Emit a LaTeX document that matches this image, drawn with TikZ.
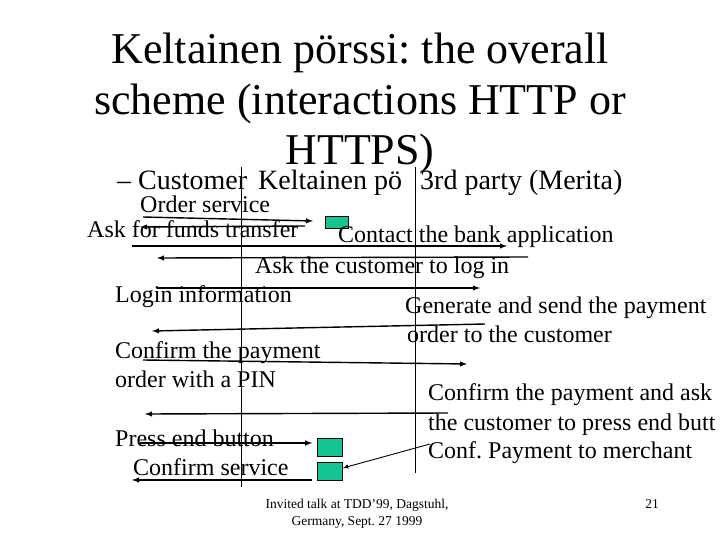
\documentclass[tikz,border=0pt]{standalone}
\usepackage{fontspec}
\setmainfont{Liberation Serif}
\usetikzlibrary{arrows}
\frenchspacing

\definecolor{boxgreen}{RGB}{22,196,146}

\begin{document}
\begin{tikzpicture}[x=1pt,y=-1pt,msg/.style={->, >=latex, line width=1.4pt},
  lbl/.style={anchor=base west, inner sep=0, font=\fontsize{24}{29}\selectfont},
  sq/.style={draw=black, fill=boxgreen, line width=.6pt, inner sep=0, minimum width=25pt, minimum height=18pt}]
\useasboundingbox (0,0) rectangle (720,540);

% TITLE
\node [anchor=base, inner sep=0, font=\fontsize{44}{51}\selectfont] (title1) at (360,64) {Keltainen pörssi: the overall};
\node [anchor=base, inner sep=0, font=\fontsize{44}{51}\selectfont] (title2) at (360,115) {scheme (interactions HTTP or};
\node [anchor=base, inner sep=0, font=\fontsize{44}{51}\selectfont] (title3) at (360,165) {HTTPS)};

% HEADER AND LIFELINES
\node [anchor=base west, inner sep=0, font=\fontsize{28}{33}\selectfont] (hcust) at (117,190) {– Customer};
\node [anchor=base west, inner sep=0, font=\fontsize{28}{33}\selectfont] (hkelt) at (258,190) {Keltainen pö};
\node [anchor=base west, inner sep=0, font=\fontsize{28}{33}\selectfont] (hbank) at (420,190) {3rd party (Merita)};
\coordinate (k top) at (241,167);
\coordinate (k bot) at (241,487);
\coordinate (b top) at (415,167);
\coordinate (b bot) at (415,473);
\draw [line width=.9pt] (k top) -- (k bot);
\draw [line width=.9pt] (b top) -- (b bot);

% SERVER BOXES
\node [sq, minimum width=23pt, minimum height=12pt] (box1) at (336.5,222.5) {};
\node [sq] (box2) at (330,447) {};
\node [sq] (box3) at (330,471) {};

% MESSAGE LABELS
\node [lbl] (order) at (140,213) {Order service};
\node [lbl] (funds) at (87,237) {Ask for funds transfer};
\node [lbl] (contact) at (338,243) {Contact the bank application};
\node [lbl] (login) at (255,273) {Ask the customer to log in};
\node [lbl] (info) at (115,302) {Login information};
\node [lbl] (gen1) at (405,313) {Generate and send the payment};
\node [lbl] (gen2) at (407,342) {order to the customer};
\node [lbl] (pin1) at (115,358) {Confirm the payment};
\node [lbl] (pin2) at (115,387) {order with a PIN};
\node [lbl] (ask1) at (428,400) {Confirm the payment and ask};
\node [lbl] (ask2) at (428,430) {the customer to press end butt};
\node [lbl] (press) at (115,446) {Press end button};
\node [lbl] (merch) at (428,458) {Conf. Payment to merchant};
\node [lbl] (csrv) at (133,475) {Confirm service};

% ARROWS
\coordinate (a1s) at (143,217);
\coordinate (a1e) at (313,221);
\coordinate (a2s) at (305,226);
\coordinate (a2e) at (140,227);
\coordinate (a3s) at (132,246);
\coordinate (a3e) at (507,246);
\coordinate (a4s) at (528,257);
\coordinate (a4e) at (157,258);
\coordinate (a5s) at (157,288);
\coordinate (a5e) at (480,288);
\coordinate (a6s) at (485,324);
\coordinate (a6e) at (152,331);
\coordinate (a7s) at (143,360);
\coordinate (a7e) at (467,364);
\coordinate (a8s) at (448,413);
\coordinate (a8e) at (145,414);
\coordinate (a9s) at (140,443);
\coordinate (a10e) at (132,480);
\coordinate (a11s) at (430,444);
\draw [msg] (a1s) -- (a1e);
\draw [msg] (a2s) -- (a2e);
\draw [msg] (a3s) -- (a3e);
\draw [msg] (a4s) -- (a4e);
\draw [msg] (a5s) -- (a5e);
\draw [msg] (a6s) -- (a6e);
\draw [msg] (a7s) -- (a7e);
\draw [msg] (a8s) -- (a8e);
\draw [msg] (a9s) -- ([xshift=-5pt]box2.west |- a9s);
\draw [msg] ([xshift=-5pt]box3.west |- a10e) -- (a10e);
\draw [->, >=latex, line width=.9pt] (a11s) -- ([yshift=3pt]box3.east);

% FOOTER
\node [anchor=base, align=center, inner sep=0, font=\fontsize{13.5}{17}\selectfont] (foot) at (357,525) {Invited talk at TDD'99, Dagstuhl,\\Germany, Sept. 27 1999};
\node [anchor=base, inner sep=0, font=\fontsize{13.5}{17}\selectfont] (page) at (652,508) {21};
\end{tikzpicture}
\end{document}
